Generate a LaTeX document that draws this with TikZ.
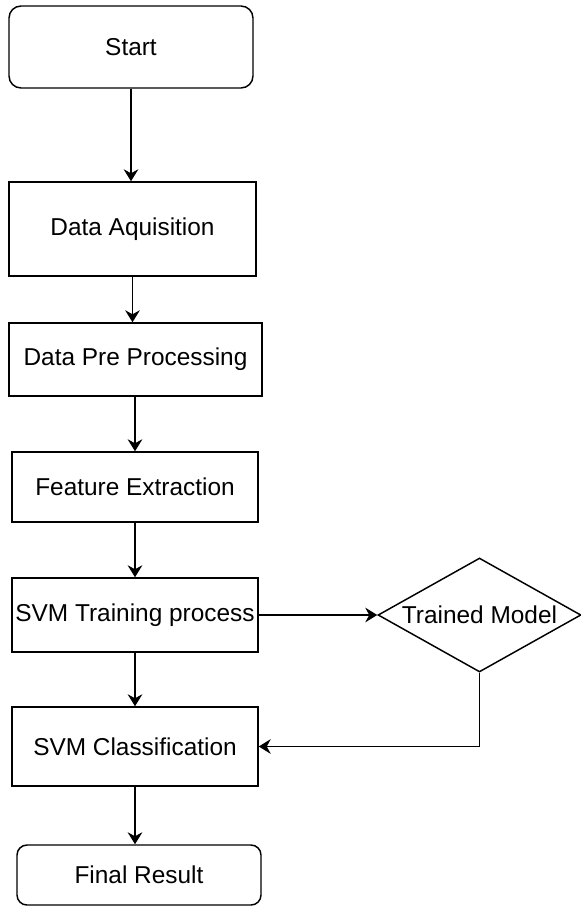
\documentclass[tikz,border=0pt]{standalone}
\usepackage{fontspec}
\setmainfont{Liberation Sans}
\usetikzlibrary{shapes.geometric,arrows.meta}
\begin{document}
\begin{tikzpicture}[x=0.75pt,y=-0.75pt,
  every node/.style={font=\fontsize{18.3}{22}\selectfont, inner sep=0pt},
  box/.style={draw, line width=1.1pt, rectangle},
  term/.style={draw, line width=1.1pt, rectangle, rounded corners=9pt},
  dec/.style={draw, line width=1.1pt, diamond},
  conn/.style={line width=1.1pt, -{Stealth[length=9pt,width=11pt,inset=3pt]}}]
\useasboundingbox (0,0) rectangle (581,907);
\node[term, minimum width=183pt, minimum height=61.5pt] (start) at (131,47) {Start};
\node[box, minimum width=185.25pt, minimum height=70.5pt] (da) at (132.5,229) {Data Aquisition};
\node[box, minimum width=189.75pt, minimum height=54.75pt] (dpp) at (135.5,359.5) {Data Pre Processing};
\node[box, minimum width=184.5pt, minimum height=52.5pt] (fe) at (135,487) {Feature Extraction};
\node[box, minimum width=184.5pt, minimum height=55.5pt] (svmt) at (135,615) {SVM Training process};
\node[dec, minimum width=152.25pt, minimum height=85.5pt] (tm) at (479.5,615) {};
\node (tmtext) at (tm.center) {Trained Model};
\node[box, minimum width=184.5pt, minimum height=59.25pt] (svmc) at (135,746.5) {SVM Classification};
\node[term, rounded corners=7.5pt, minimum width=183pt, minimum height=45pt] (fr) at (139,875) {Final Result};
\draw[conn] (start.south) -- (start.south |- da.north);
\draw[conn] (da.south) -- (da.south |- dpp.north);
\draw[conn] (fe.north |- dpp.south) -- (fe.north);
\draw[conn] (fe.south) -- (svmt.north);
\draw[conn] (svmt.east) -- (tm.west);
\draw[conn] (svmt.south) -- (svmc.north);
\draw[conn] (tm.south) |- (svmc.east);
\draw[conn] (svmc.south) -- (svmc.south |- fr.north);
\end{tikzpicture}
\end{document}
